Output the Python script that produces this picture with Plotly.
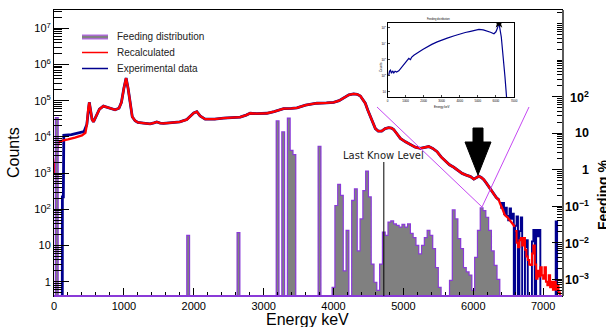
import math
import plotly.graph_objects as go

# ---------------- data ----------------
# Experimental spectrum (smooth part), energy keV / counts (0 = empty bin)
exp_energy = [115, 120, 134, 140, 250, 350, 430, 470, 490, 505, 520, 545, 565, 600, 650, 707, 760, 820,
              874, 930, 965, 1000, 1032, 1060, 1090, 1120, 1160, 1200, 1280, 1375, 1430, 1471, 1520,
              1567, 1650, 1710, 1800, 1900, 1960, 2000, 2044, 2091, 2163, 2300, 2425, 2550, 2665, 2750,
              2808, 2900, 3047, 3150, 3286, 3400, 3477, 3600, 3763, 3900, 4002, 4080, 4145, 4220, 4288,
              4340, 4384, 4420, 4455, 4490, 4527, 4560, 4599, 4640, 4690, 4740, 4790, 4830, 4861, 4910,
              4957, 5030, 5100, 5170, 5243, 5300, 5363, 5420, 5482, 5540, 5602, 5660, 5721, 5780, 5841,
              5900, 5960, 6008, 6050, 6079, 6115, 6151, 6190, 6222, 6260, 6294, 6330, 6366, 6380]
exp_counts = [0, 220, 220, 1.1e4, 1.15e4, 1.25e4, 1.4e4, 2.2e4, 6e4, 9e4, 6e4, 3e4, 2.6e4, 3.5e4, 5.8e4,
              7.1e4, 6.6e4, 6.0e4, 5.6e4, 6.2e4, 9e4, 2.2e5, 4.2e5, 2.2e5, 8e4, 3.6e4, 2.8e4, 2.5e4,
              2.4e4, 2.3e4, 2.45e4, 2.6e4, 2.4e4, 2.35e4, 2.45e4, 2.5e4, 2.6e4, 3.0e4, 3.8e4, 4.6e4,
              5e4, 3.8e4, 3.1e4, 3.1e4, 3.3e4, 3.4e4, 3.5e4, 4.0e4, 4.5e4, 4.4e4, 4.5e4, 5.0e4, 6.0e4,
              6.1e4, 6.3e4, 7.5e4, 8.5e4, 8.7e4, 9.0e4, 1.0e5, 1.2e5, 1.45e5, 1.55e5, 1.5e5, 1.35e5,
              1.1e5, 8.5e4, 5.5e4, 3.6e4, 2.4e4, 1.7e4, 1.45e4, 1.45e4, 1.7e4, 1.8e4, 1.75e4, 1.6e4,
              1.2e4, 9.1e3, 7.3e3, 6.0e3, 5.2e3, 4.8e3, 5.0e3, 5.4e3, 4.8e3, 3.9e3, 2.8e3, 2.1e3, 1.7e3,
              1.45e3, 1.2e3, 980, 880, 800, 680, 760, 820, 760, 660, 520, 420, 320, 250, 210, 183, 180]
# Experimental tail, 20 keV bins (non-empty bins only)
exp_tail_energy = [6390, 6410, 6430, 6450, 6470, 6490, 6510, 6530, 6550, 6570, 6610, 6630, 6670, 6690,
                   6750, 6770, 6850, 6870, 6910, 6930, 6950, 7190]
exp_tail_counts = [150, 110, 150, 75, 110, 65, 50, 105, 55, 75, 35, 63, 25, 60, 9, 14, 13, 27, 27, 18,
                   27, 46]

# Recalculated spectrum (smooth part)
rec_energy = [0, 15, 30, 45, 70, 100, 140, 200, 300, 400, 450] + exp_energy[7:-1] + \
             [6380, 6420, 6452, 6490, 6524, 6560, 6595]
rec_counts = [1000, 1800, 3000, 4500, 7500, 7800, 8000, 8500, 9500, 1.1e4, 1.3e4] + exp_counts[7:-1] + \
             [150, 100, 69, 60, 50, 40, 33]
# Recalculated tail, 20 keV bins
rec_tail_energy = [6610, 6630, 6650, 6670, 6690, 6710, 6730, 6750, 6770, 6790, 6810, 6830, 6850, 6870,
                   6890, 6910, 6930, 6950, 6970, 6990, 7010, 7030, 7050, 7070, 7090, 7110, 7130, 7150,
                   7170, 7190, 7210, 7230]
rec_tail_counts = [25, 12, 9, 14, 16, 10, 16, 7.6, 5, 4, 3, 2.9, 6, 10, 3, 1.2, 2, 1.4, 2.5, 1.5, 1.2,
                   2.5, 1.0, 0.8, 1.5, 0.7, 1.0, 0.6, 1.0, 0.6, 0.8, 0.5]

# Feeding distribution (%), 40 keV bins (non-empty bins only)
feed_energy = [40, 1920, 2640, 3200, 3280, 3360, 3400, 3440, 3800, 4000, 4040, 4080, 4120, 4160, 4200,
               4280, 4320, 4360, 4400, 4440, 4480, 4520, 4560, 4600, 4640, 4680, 4720, 4760, 4800, 4840,
               4880, 4920, 4960, 5000, 5040, 5080, 5120, 5160, 5200, 5240, 5280, 5320, 5360, 5400, 5440,
               5480, 5520, 5680, 5720, 5760, 5800, 5840, 5880, 5920, 5960, 6000, 6040, 6080, 6120, 6160,
               6200, 6240, 6280, 6320, 6360]
feed_pct = [27, 0.016, 0.019, 22, 11, 26, 3.4, 2.6, 4.4, 0.0006, 0.105, 0.4, 0.2, 0.0017, 0.022,
            0.145, 0.30, 0.006, 0.045, 0.27, 0.92, 0.18, 0.0026, 0.00083, 0.0005, 0.0026, 0.0195, 0.016,
            0.037, 0.04, 0.033, 0.03, 0.027, 0.032, 0.027, 0.033, 0.018, 0.0138, 0.0085, 0.005, 0.0085,
            0.0138, 0.022, 0.016, 0.0069, 0.0021, 0.0006, 0.00093, 0.08, 0.045, 0.013, 0.0069, 0.0021,
            0.0016, 0.0013, 0.0005, 0.004, 0.022, 0.091, 0.076, 0.05, 0.022, 0.006, 0.0024, 0.001]

# Inset: feeding-distribution spectrum
inset_energy = [72, 110, 164, 220, 280, 349, 420, 500, 626, 760, 903, 1000, 1088, 1180, 1273, 1330,
                1458, 1600, 1735, 1950, 2197, 2450, 2751, 3000, 3305, 3700, 4044, 4300, 4598, 4850,
                5060, 5300, 5522, 5700, 5891, 6000, 6076, 6168, 6297, 6408, 6500, 6593]
inset_counts = [110, 190, 220, 140, 200, 150, 190, 170, 200, 300, 460, 700, 930, 1200, 1000, 1400,
                1900, 2300, 3000, 4300, 6300, 9000, 1.3e4, 1.7e4, 2.2e4, 3.1e4, 4.2e4, 5.0e4, 5.9e4,
                6.9e4, 7.8e4, 7.2e4, 6.2e4, 5.2e4, 4.2e4, 5.5e4, 8.7e4, 1.9e5, 2.6e4, 1500, 86, 4]

x_ticks = [0, 1000, 2000, 3000, 4000, 5000, 6000, 7000]
counts_ticks = [1, 10, 1e2, 1e3, 1e4, 1e5, 1e6, 1e7]
counts_ticktext = ["1", "10", "10<sup>2</sup>", "10<sup>3</sup>", "10<sup>4</sup>", "10<sup>5</sup>",
                   "10<sup>6</sup>", "10<sup>7</sup>"]
feed_ticks = [1e-3, 1e-2, 1e-1, 1, 10, 100]
feed_ticktext = ["10<sup>\u22123</sup>", "10<sup>\u22122</sup>", "10<sup>\u22121</sup>", "1", "10",
                 "10<sup>2</sup>"]
inset_yticks = [10, 1e2, 1e3, 1e4, 1e5]
inset_yticktext = ["10", "10<sup>2</sup>", "10<sup>3</sup>", "10<sup>4</sup>", "10<sup>5</sup>"]
last_known_level = 4720
legend_labels = ["Feeding distribution", "Recalculated", "Experimental data"]

# ---------------- styling / geometry ----------------
W, H = 606, 327
L, R, T, B = 54, 562, 10, 296
FONT = "Liberation Sans, Arial, sans-serif"
C_EXP = "#00008f"
C_REC = "#ff0000"
C_FEED_LINE = "#8a3ad8"
C_FEED_FILL = "#808080"
C_LINK = "#c548f2"
FLOOR = 1e-9


def fx(p):
    return (p - L) / (R - L)


def fy(p):
    return (B - p) / (B - T)


def floor0(vals):
    return [v if v > 0 else FLOOR for v in vals]


def step_hist(centers, values, width, lo, hi):
    d = {round(c, 3): v for c, v in zip(centers, values)}
    n = int(round((hi - lo) / width))
    xs, ys = [], []
    for i in range(n):
        e0 = lo + i * width
        c = round(e0 + width / 2, 3)
        xs.append(e0)
        ys.append(d.get(c, 0))
    xs.append(lo + n * width)
    ys.append(0)
    return xs, floor0(ys)


fig = go.Figure()

# Feeding distribution: grey fill + violet step outline (right axis)
fig.add_trace(go.Bar(x=feed_energy, y=feed_pct, width=40, yaxis="y2",
                     marker=dict(color=C_FEED_FILL, line=dict(width=0)), showlegend=False,
                     hoverinfo="skip"))
fx_s, fy_s = step_hist(feed_energy, feed_pct, 40, -20, 7300)
fig.add_trace(go.Scatter(x=fx_s, y=fy_s, yaxis="y2", mode="lines", line=dict(color=C_FEED_LINE, width=1.2,
                         shape="hv"), showlegend=False, hoverinfo="skip"))

# Experimental data
fig.add_trace(go.Scatter(x=exp_energy, y=floor0(exp_counts), mode="lines",
                         line=dict(color=C_EXP, width=2.8), showlegend=False))
ex_t, ey_t = step_hist(exp_tail_energy, exp_tail_counts, 20, 6380, 7260)
fig.add_trace(go.Scatter(x=ex_t, y=ey_t, mode="lines", line=dict(color=C_EXP, width=1.9, shape="hv"),
                         showlegend=False))
# Recalculated
fig.add_trace(go.Scatter(x=rec_energy, y=floor0(rec_counts), mode="lines",
                         line=dict(color=C_REC, width=2.3), showlegend=False))
rx_t, ry_t = step_hist(rec_tail_energy, rec_tail_counts, 20, 6600, 7260)
fig.add_trace(go.Scatter(x=rx_t, y=ry_t, mode="lines", line=dict(color=C_REC, width=2.0, shape="hv"),
                         showlegend=False))

# Inset
fig.add_trace(go.Scatter(x=inset_energy, y=inset_counts, xaxis="x3", yaxis="y3", mode="lines",
                         line=dict(color=C_EXP, width=1.2), showlegend=False))
imax = max(range(len(inset_counts)), key=lambda i: inset_counts[i])
fig.add_trace(go.Scatter(x=[inset_energy[imax]], y=[inset_counts[imax]], xaxis="x3", yaxis="y3",
                         mode="markers", marker=dict(symbol="star", size=8, color="black"),
                         showlegend=False))

axis_common = dict(showgrid=False, zeroline=False, showline=True, linecolor="black", linewidth=1)

fig.update_layout(
    width=W, height=H,
    margin=dict(l=L, r=W - R, t=T, b=H - B),
    paper_bgcolor="white", plot_bgcolor="white",
    bargap=0,
    font=dict(family=FONT, color="black"),
    xaxis=dict(range=[0, 7270], tickvals=x_ticks, ticks="inside", ticklen=8, tickcolor="black",
               mirror=True, tickfont=dict(size=11, family=FONT),
               minor=dict(dtick=200, tick0=0, ticks="inside", ticklen=4, tickcolor="black"),
               **axis_common),
    yaxis=dict(type="log", range=[-0.395, 7.505], tickvals=counts_ticks, ticktext=counts_ticktext,
               ticks="inside", ticklen=15, tickcolor="black", mirror=True,
               tickfont=dict(size=11, family=FONT),
               minor=dict(dtick="D1", ticks="inside", ticklen=8, tickcolor="black"),
               **axis_common),
    yaxis2=dict(type="log", range=[-3.457, 4.375], overlaying="y", side="right", anchor="x",
                tickvals=feed_ticks, showticklabels=False, ticks="inside", ticklen=10,
                tickcolor="black", showgrid=False, zeroline=False, showline=True,
                linecolor="#5a5a5a", linewidth=2,
                minor=dict(dtick="D1", ticks="inside", ticklen=5, tickcolor="black")),
    xaxis3=dict(domain=[fx(387.5), fx(514)], anchor="y3", range=[0, 7000], tickvals=x_ticks,
                ticks="inside", ticklen=2, tickfont=dict(size=3), mirror=True, **axis_common),
    yaxis3=dict(domain=[fy(97), fy(23)], anchor="x3", type="log", range=[0.67, 5.29],
                tickvals=inset_yticks, ticktext=inset_yticktext, ticks="inside", ticklen=2,
                tickfont=dict(size=3), mirror=True, **axis_common),
)

shapes = []
# purple baseline of the feeding histogram
shapes.append(dict(type="line", xref="paper", yref="paper", x0=0, x1=1, y0=0, y1=0,
                   line=dict(color=C_FEED_LINE, width=2), layer="above"))
# last known level
shapes.append(dict(type="line", xref="x", yref="paper", x0=last_known_level, x1=last_known_level,
                   y0=0, y1=fy(162), line=dict(color="black", width=1)))
# connectors to inset
for (xa, ya) in [(377, 107), (529, 107)]:
    shapes.append(dict(type="line", xref="paper", yref="paper", x0=fx(xa), y0=fy(ya), x1=fx(482),
                       y1=fy(207), line=dict(color=C_LINK, width=1)))
# big black arrow
arrow_px = [(473, 128), (483, 128), (483, 142), (491, 142), (478, 175), (465, 142), (473, 142)]
path = "M " + " L ".join(f"{fx(a):.5f},{fy(b):.5f}" for a, b in arrow_px) + " Z"
shapes.append(dict(type="path", xref="paper", yref="paper", path=path, fillcolor="black",
                   line=dict(color="black", width=1)))
# legend samples
shapes.append(dict(type="line", xref="paper", yref="paper", x0=fx(82), x1=fx(108), y0=fy(37), y1=fy(37),
                   line=dict(color="#b566e6", width=5)))
shapes.append(dict(type="line", xref="paper", yref="paper", x0=fx(82), x1=fx(108), y0=fy(37), y1=fy(37),
                   line=dict(color=C_FEED_FILL, width=2.5)))
shapes.append(dict(type="line", xref="paper", yref="paper", x0=fx(82), x1=fx(108), y0=fy(52.5),
                   y1=fy(52.5), line=dict(color=C_REC, width=1.5)))
shapes.append(dict(type="line", xref="paper", yref="paper", x0=fx(82), x1=fx(108), y0=fy(68.5),
                   y1=fy(68.5), line=dict(color=C_EXP, width=1.5)))
fig.update_layout(shapes=shapes)

ann = []
for lab, yy in zip(legend_labels, [37, 52.5, 68.5]):
    ann.append(dict(text=lab, xref="paper", yref="paper", x=fx(115), y=fy(yy), xanchor="left",
                    yanchor="middle", showarrow=False, font=dict(size=10, family=FONT, color="#222")))
ann.append(dict(text="Last Know Level", xref="x", yref="paper", x=last_known_level, y=fy(155),
                xanchor="center", yanchor="middle", showarrow=False,
                font=dict(size=10, family="DejaVu Sans", color="#222")))
# axis titles
ann.append(dict(text="Counts", xref="paper", yref="paper", x=fx(13), y=fy(153), textangle=-90,
                xanchor="center", yanchor="middle", showarrow=False, font=dict(size=16, family=FONT)))
ann.append(dict(text="Energy keV", xref="paper", yref="paper", x=fx(307.5), y=fy(319),
                xanchor="center", yanchor="middle", showarrow=False, font=dict(size=16, family=FONT)))
ann.append(dict(text="<b>Feeding %</b>", xref="paper", yref="paper", x=fx(603), y=fy(195),
                textangle=-90, xanchor="center", yanchor="middle", showarrow=False,
                font=dict(size=14, family=FONT)))
# right axis tick labels (right-aligned)
for v, t in zip(feed_ticks, feed_ticktext):
    ann.append(dict(text=f"<b>{t}</b>", xref="paper", yref="y2", x=fx(591), y=math.log10(v),
                    xanchor="right", yanchor="middle", showarrow=False,
                    font=dict(size=12.5, family=FONT)))
# inset texts
ann.append(dict(text="Feeding distribution", xref="paper", yref="paper", x=fx(452), y=fy(15),
                showarrow=False, font=dict(size=2.6, family=FONT)))
ann.append(dict(text="Energy keV", xref="paper", yref="paper", x=fx(452), y=fy(103.5),
                showarrow=False, font=dict(size=3, family=FONT)))
ann.append(dict(text="Counts", xref="paper", yref="paper", x=fx(381), y=fy(60), textangle=-90,
                showarrow=False, font=dict(size=3, family=FONT)))
fig.update_layout(annotations=ann)

fig.write_html("out.html")
